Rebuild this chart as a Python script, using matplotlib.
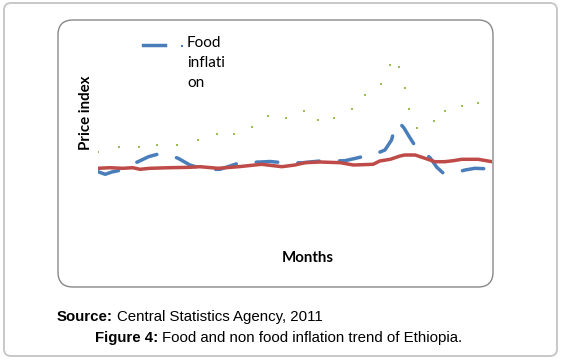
import matplotlib
matplotlib.use("Agg")
import matplotlib.pyplot as plt
from matplotlib.patches import FancyBboxPatch
from matplotlib.lines import Line2D

plt.rcParams['lines.scale_dashes'] = False

# months (index) and price index values
food_m = [0.0, 1.1, 2.1, 3.1, 4.6, 6.1, 7.7, 9.2, 10.7, 12.2, 14.0, 15.5, 17.1, 18.6,
          20.1, 21.6, 23.1, 24.7, 26.2, 28.2, 29.7, 31.2, 32.7, 34.3, 35.9, 37.6,
          39.1, 40.7, 42.2, 43.7, 44.7, 45.1, 45.8, 46.6, 47.4, 48.3, 49.5, 50.6,
          51.6, 52.6, 54.4, 55.9, 57.4, 60.0]
food = [78.3, 75.7, 78, 79.3, 84, 88.3, 93.3, 96, 95, 91.7, 85, 82, 80.5, 80.7,
        84, 87.3, 87.7, 88, 88.5, 87.3, 87, 87.3, 88.3, 89.3, 89, 89.3,
        91.5, 94, 96, 100, 110, 120, 128, 122, 113.3, 104, 98.3, 92,
        82.7, 76.7, 77.3, 80, 81.7, 81]

nonfood_m = [0, 1.8, 3.8, 5.3, 6.4, 7.9, 11.0, 14.0, 15.5, 18.3, 21.4, 24.9, 28.0,
             30.0, 31.5, 33.8, 36.9, 38.9, 41.9, 42.9, 44.5, 46.0, 46.7, 48.3,
             49.8, 51.3, 52.8, 54.1, 55.4, 57.9, 60.0]
nonfood = [81.7, 82.3, 81.7, 82.3, 80.7, 81.7, 82.3, 82.7, 83.3, 81.7, 83.3, 85.7, 83.3,
           85, 87.3, 88, 87.3, 85, 85.7, 89, 90.7, 94, 95, 95,
           91.7, 88.3, 88.3, 89.3, 90.7, 90.7, 88.3]

general_m = [0, 3.2, 6.3, 9.0, 12.1, 15.3, 18.1, 20.7, 23.4, 25.9, 28.6, 31.3, 33.5,
             36.0, 38.7, 40.7, 43.1, 44.5, 45.8, 46.7, 47.4, 48.6, 51.1, 52.9, 55.4, 57.9]
general = [98.3, 103, 103, 105.3, 105, 110, 116.3, 115.7, 122.7, 133.7, 132.3, 138.7, 130,
           131.7, 141.3, 154.7, 165.7, 185.3, 183, 162, 140.7, 121.7, 129, 139.3, 144, 147]

blue = '#4a7ebb'
red = '#be4b48'
green = '#9bbb59'

fig = plt.figure(figsize=(5.62, 3.61), dpi=100)

# outer and inner rounded frames
fig.add_artist(FancyBboxPatch((0.04, 0.05), 5.53, 3.53, boxstyle="round,pad=0,rounding_size=0.07",
                              transform=fig.dpi_scale_trans, fc='none', ec='#c8c8c8', lw=1.4))
fig.add_artist(FancyBboxPatch((0.58, 0.74), 4.35, 2.67, boxstyle="round,pad=0,rounding_size=0.15",
                              transform=fig.dpi_scale_trans, fc='none', ec='#888888', lw=1.0))

ax = fig.add_axes([98 / 562, 111 / 361, 394 / 562, 210 / 361])
ax.plot(general_m, general, ls='none', marker='s', ms=2.0, color=green, mec=green, mew=0)
ax.plot(food_m, food, color=blue, lw=2.5, dashes=(15.5, 14.5), solid_capstyle='round',
        dash_capstyle='round')
ax.plot(nonfood_m, nonfood, color=red, lw=2.5, solid_capstyle='round')
ax.set_xlim(0, 60)
ax.set_ylim(0, 210)
ax.axis('off')

# legend
fig.add_artist(Line2D([143 / 562, 165 / 562], [1 - 45 / 361] * 2, color=blue, lw=2.5,
                      transform=fig.transFigure))
fig.add_artist(Line2D([182 / 562], [1 - 46 / 361], ls='none', marker='s', ms=1.8, mew=0,
                      color=blue, transform=fig.transFigure))
fig.text(187 / 562, 1 - 36 / 361, "Food\ninflati\non", family='Lato', fontsize=11,
         va='top', ha='left', linespacing=1.55)

fig.text(86 / 562, 1 - 113 / 361, "Price index", family='Lato', fontsize=10.8,
         fontweight='bold', rotation=90, ha='center', va='center')
fig.text(308 / 562, 1 - 258 / 361, "Months", family='Lato', fontsize=10.8,
         fontweight='bold', ha='center', va='center')

t1 = fig.text(57 / 562, 1 - 317 / 361, "Source:", family='Liberation Sans', fontsize=10.8,
              fontweight='bold', va='center')
ax.annotate("Central Statistics Agency, 2011", xy=(1, 0), xycoords=t1, va='bottom',
            xytext=(3, 0), textcoords='offset points',
            family='Liberation Sans', fontsize=10.8, annotation_clip=False)

t2 = fig.text(95 / 562, 1 - 338 / 361, "Figure 4:", family='Liberation Sans', fontsize=10.8,
              fontweight='bold', va='center')
ax.annotate("Food and non food inflation trend of Ethiopia.", xy=(1, 0), xycoords=t2,
            xytext=(3, 0), textcoords='offset points',
            va='bottom', family='Liberation Sans', fontsize=10.8, annotation_clip=False)

fig.savefig("out.png", dpi=100)
